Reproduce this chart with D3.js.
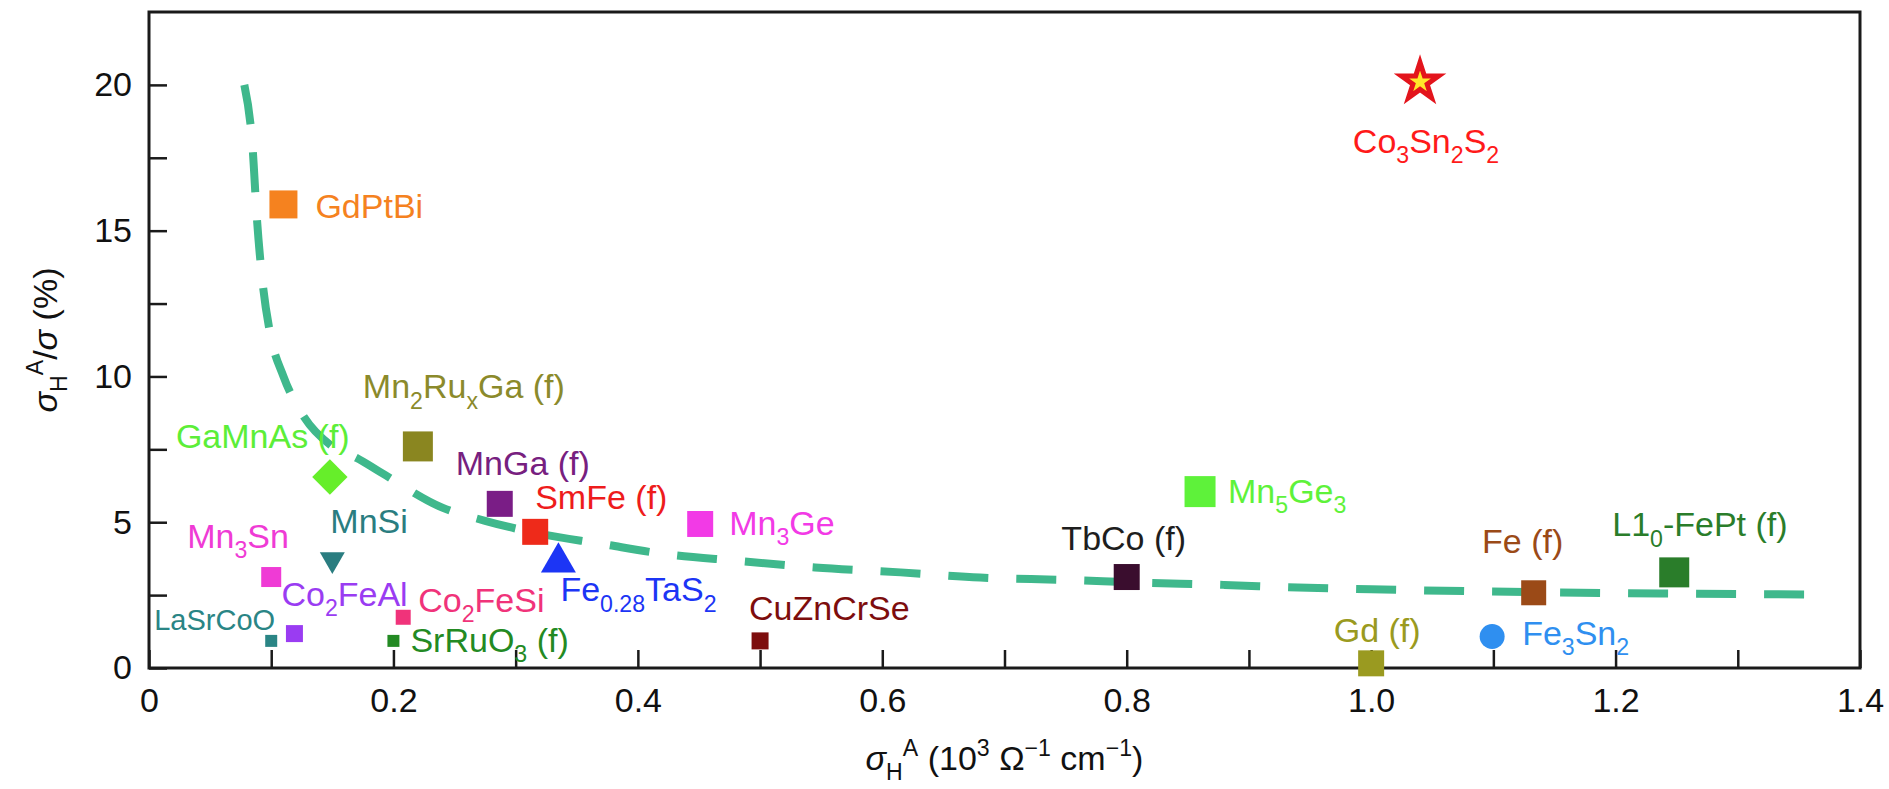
<!DOCTYPE html>
<html>
<head>
<meta charset="utf-8">
<script src="https://cdn.jsdelivr.net/npm/d3@7"></script>
<style>
  body { margin: 0; background: #fff; }
  svg { display: block; font-family: 'Liberation Sans', Arial, sans-serif; }
</style>
</head>
<body>
<svg id="chart" width="1889" height="789"></svg>
<script>
// values: sigma_AH (10^3 Ohm^-1 cm^-1) and sigma_AH / sigma (%)
const MATERIALS = [
  'Co_3Sn_2S_2', 'GdPtBi', 'Mn_2Ru_xGa (f)', 'GaMnAs (f)', 'MnGa (f)', 'SmFe (f)',
  'Mn_3Ge', 'MnSi', 'Mn_3Sn', 'Fe_{0.28}TaS_2', 'Co_2FeAl', 'Co_2FeSi', 'LaSrCoO',
  'SrRuO_3 (f)', 'CuZnCrSe', 'TbCo (f)', 'Mn_5Ge_3', 'Fe (f)', 'L1_0-FePt (f)',
  'Gd (f)', 'Fe_3Sn_2',
];
const SIGMA_AH = [
  1.04, 0.11, 0.22, 0.148, 0.287, 0.316,
  0.451, 0.15, 0.1, 0.335, 0.119, 0.208, 0.1,
  0.2, 0.5, 0.8, 0.86, 1.133, 1.248,
  1.0, 1.099,
];
const RATIO = [
  20.1, 15.9, 7.6, 6.55, 5.63, 4.67,
  4.94, 3.72, 3.12, 3.62, 1.18, 1.74, 0.93,
  0.93, 0.93, 3.12, 6.05, 2.58, 3.28,
  0.16, 1.08,
];

// dashed guide curve
const CURVE_X = [0.078, 0.085, 0.088, 0.093, 0.099, 0.11, 0.124, 0.15, 0.17, 0.19, 0.24, 0.275,
  0.32, 0.37, 0.42, 0.48, 0.545, 0.615, 0.68, 0.75, 0.81, 0.88, 0.94, 1.0, 1.133, 1.25, 1.358];
const CURVE_Y = [20, 17.7, 15.6, 13.2, 11.5, 10.0, 8.8, 7.6, 7.2, 6.7, 5.5, 5.05,
  4.6, 4.26, 3.92, 3.68, 3.45, 3.28, 3.1, 3.02, 2.93, 2.85, 2.76, 2.7, 2.6, 2.55, 2.52];

const X_TICKS = [0, 0.2, 0.4, 0.6, 0.8, 1.0, 1.2, 1.4];
const Y_TICKS = [0, 5, 10, 15, 20];

// marker look and label placement, one entry per material
const LOOK = [
  { shape: 'star', size: 430, color: '#e3141c', fill: '#ffe72a', text: '#ff1a1a', dx: 6, dy: 71, anchor: 'middle' },
  { shape: 'square', size: 28, color: '#f5821f', dx: 32, dy: 14 },
  { shape: 'square', size: 30, color: '#8a8620', text: '#8b8a2b', dx: -55, dy: -48 },
  { shape: 'diamond', size: 25, color: '#66ee2a', text: '#5cee38', dx: -154, dy: -29 },
  { shape: 'square', size: 26, color: '#7a1d86', text: '#77207f', dx: -44, dy: -29 },
  { shape: 'square', size: 26, color: '#ee2a1a', text: '#ee1c1c', dx: 0, dy: -23 },
  { shape: 'square', size: 26, color: '#f23ae6', dx: 29, dy: 11 },
  { shape: 'triDown', size: 270, color: '#2a7d80', dx: -2, dy: -27 },
  { shape: 'square', size: 20, color: '#ef3bd5', dx: -84, dy: -29 },
  { shape: 'triUp', size: 530, color: '#1c35f5', dx: 2, dy: 39 },
  { shape: 'square', size: 17, color: '#9a3cf2', dx: -13, dy: -28 },
  { shape: 'square', size: 15, color: '#f0337a', dx: 15, dy: -5 },
  { shape: 'square', size: 12, color: '#2a8585', dx: -117, dy: -11, font: 29 },
  { shape: 'square', size: 12, color: '#238a23', dx: 17, dy: 11 },
  { shape: 'square', size: 17, color: '#7d0d0d', dx: -11, dy: -21 },
  { shape: 'square', size: 26, color: '#3a0d2e', text: '#1e1e1e', dx: -3, dy: -27, anchor: 'middle' },
  { shape: 'square', size: 31, color: '#5ef23a', dx: 28, dy: 11 },
  { shape: 'square', size: 25, color: '#9b4a17', dx: -11, dy: -40, anchor: 'middle' },
  { shape: 'square', size: 30, color: '#2a7d2a', dx: -62, dy: -36 },
  { shape: 'square', size: 26, color: '#9a9a20', dx: 6, dy: -21, anchor: 'middle' },
  { shape: 'circle', size: 491, color: '#2f8ff0', dx: 30, dy: 8 },
];

const SVG = d3.select('#chart');
const LEFT = 149, RIGHT = 1860, TOP = 12, BOTTOM = 668;
const FONT = 34;

const X = d3.scaleLinear().domain([0, 1.4]).range([LEFT, RIGHT]);
const Y = d3.scaleLinear().domain([0, 22.5]).range([BOTTOM, TOP]);

// axes with inward ticks, minor ticks unlabeled
const xAxis = d3.axisBottom(X)
  .tickValues(d3.range(0, 15).map((i) => i / 10))
  .tickSize(-18)
  .tickPadding(20)
  .tickFormat((d) => {
    const hit = X_TICKS.find((t) => Math.abs(t - d) < 1e-9);
    if (hit === undefined) return '';
    return hit === 0 ? '0' : d3.format('.1f')(hit);
  });
const xg = SVG.append('g').attr('transform', `translate(0,${BOTTOM})`).call(xAxis);

const yAxis = d3.axisLeft(Y)
  .tickValues(d3.range(0, 9).map((i) => i * 2.5))
  .tickSize(-18)
  .tickPadding(17)
  .tickFormat((d) => (Y_TICKS.includes(d) ? String(d) : ''));
const yg = SVG.append('g').attr('transform', `translate(${LEFT},0)`).call(yAxis);

[xg, yg].forEach((g) => {
  g.select('.domain').remove();
  g.selectAll('.tick line').attr('stroke', '#1a1a1a').attr('stroke-width', 2.5);
  g.selectAll('.tick text').attr('fill', '#111').style('font-size', FONT + 'px')
    .style('font-family', "'Liberation Sans', Arial, sans-serif");
});

SVG.append('rect')
  .attr('x', LEFT).attr('y', TOP)
  .attr('width', RIGHT - LEFT).attr('height', BOTTOM - TOP)
  .attr('fill', 'none').attr('stroke', '#1a1a1a').attr('stroke-width', 3);

// guide curve
SVG.append('path')
  .datum(d3.zip(CURVE_X, CURVE_Y))
  .attr('d', d3.line().x((d) => X(d[0])).y((d) => Y(d[1])).curve(d3.curveMonotoneX))
  .attr('fill', 'none')
  .attr('stroke', '#3fb88c')
  .attr('stroke-width', 8)
  .attr('stroke-dasharray', '40 28');

// markers
const SHAPE = {
  square: (s) => d3.symbol(d3.symbolSquare, s * s)(),
  diamond: (s) => d3.symbol(d3.symbolSquare, s * s)(),
  triUp: (s) => d3.symbol(d3.symbolTriangle, s)(),
  triDown: (s) => d3.symbol(d3.symbolTriangle, s)(),
  circle: (s) => d3.symbol(d3.symbolCircle, s)(),
  star: (s) => d3.symbol(d3.symbolStar, s)(),
};
const ROTATE = { diamond: 45, triDown: 180 };

const points = MATERIALS.map((name, i) => ({ name, x: SIGMA_AH[i], y: RATIO[i], look: LOOK[i] }));

SVG.append('g')
  .selectAll('path')
  .data(points)
  .join('path')
  .attr('d', (d) => SHAPE[d.look.shape](d.look.size))
  .attr('transform', (d) => `translate(${X(d.x)},${Y(d.y)}) rotate(${ROTATE[d.look.shape] || 0})`)
  .attr('fill', (d) => d.look.fill || d.look.color)
  .attr('stroke', (d) => (d.look.shape === 'star' ? d.look.color : 'none'))
  .attr('stroke-width', 5)
  .attr('stroke-linejoin', 'miter');

// labels with subscripts: "_x" or "_{...}"
function addRich(text, str, size) {
  const parts = [];
  str.replace(/_\{([^}]*)\}|_(.)|([^_]+)/g, (m, a, b, c) => {
    parts.push(c !== undefined ? { t: c, sub: false } : { t: a !== undefined ? a : b, sub: true });
    return m;
  });
  const drop = size * 0.3;
  let low = false;
  parts.forEach((p) => {
    const ts = text.append('tspan').text(p.t);
    if (p.sub) {
      ts.attr('font-size', size * 0.68);
      if (!low) ts.attr('dy', drop);
      low = true;
    } else {
      if (low) ts.attr('dy', -drop);
      low = false;
    }
  });
}

SVG.append('g')
  .selectAll('text')
  .data(points)
  .join('text')
  .attr('x', (d) => X(d.x) + d.look.dx)
  .attr('y', (d) => Y(d.y) + d.look.dy)
  .attr('text-anchor', (d) => d.look.anchor || 'start')
  .attr('font-size', (d) => d.look.font || FONT)
  .attr('fill', (d) => d.look.text || d.look.color)
  .each(function (d) {
    addRich(d3.select(this), d.name, d.look.font || FONT);
  });

// axis titles
function addTitle(text, parts, size) {
  let shift = 0;
  parts.forEach((p) => {
    const target = p.k === 'sub' ? size * 0.3 : p.k === 'sup' ? -size * 0.42 : 0;
    const ts = text.append('tspan').text(p.t).attr('dy', target - shift);
    if (p.k) ts.attr('font-size', size * 0.68);
    if (p.i) ts.attr('font-style', 'italic');
    shift = target;
  });
}

const xTitle = SVG.append('text')
  .attr('x', X(0.7)).attr('y', 770)
  .attr('text-anchor', 'middle').attr('font-size', FONT).attr('fill', '#111');
addTitle(xTitle, [
  { t: 'σ', i: true }, { t: 'H', k: 'sub' }, { t: 'A', k: 'sup' },
  { t: ' (10' }, { t: '3', k: 'sup' }, { t: ' Ω' }, { t: '−1', k: 'sup' },
  { t: ' cm' }, { t: '−1', k: 'sup' }, { t: ')' },
], FONT);

const yTitle = SVG.append('text')
  .attr('transform', `translate(57,${Y(11.25)}) rotate(-90)`)
  .attr('text-anchor', 'middle').attr('font-size', FONT).attr('fill', '#111');
addTitle(yTitle, [
  { t: 'σ', i: true }, { t: 'H', k: 'sub' }, { t: 'A', k: 'sup' },
  { t: '/' }, { t: 'σ', i: true }, { t: ' (%)' },
], FONT);
</script>
</body>
</html>
